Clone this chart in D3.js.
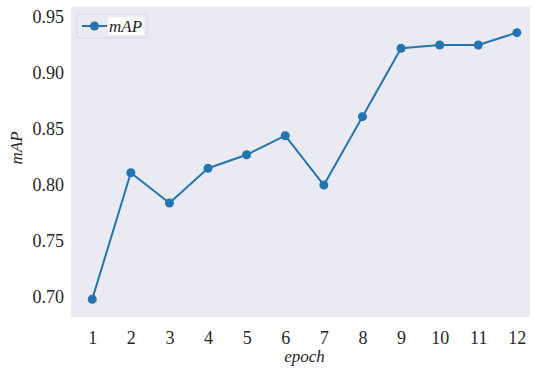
<!DOCTYPE html>
<html>
<head>
<meta charset="utf-8">
<script src="https://cdn.jsdelivr.net/npm/d3@7"></script>
<style>
  html, body { margin: 0; padding: 0; background: #ffffff; }
  svg { display: block; }
  text { font-family: "Liberation Serif", "DejaVu Serif", serif; fill: #262626; }
</style>
</head>
<body>
<svg id="chart" width="533" height="368"></svg>
<script>
// Training curve: mAP per epoch
const epochs = [1, 2, 3, 4, 5, 6, 7, 8, 9, 10, 11, 12];
const mapValues = [0.698, 0.811, 0.784, 0.815, 0.827, 0.844, 0.800, 0.861, 0.922, 0.925, 0.925, 0.936];
const yTicks = [0.70, 0.75, 0.80, 0.85, 0.90, 0.95];
const seriesName = "mAP";
const xLabel = "epoch";
const yLabel = "mAP";

const svg = d3.select("#chart");
const plot = { left: 71, top: 7, right: 530, bottom: 317 };

const x = d3.scaleLinear().domain([0.45, 12.34]).range([plot.left, plot.right]);
const y = d3.scaleLinear().domain([0.6822, 0.9589]).range([plot.bottom, plot.top]);

const color = "#2474b2";

// axes background
svg.append("rect")
  .attr("x", plot.left).attr("y", plot.top)
  .attr("width", plot.right - plot.left).attr("height", plot.bottom - plot.top)
  .attr("fill", "#eaeaf2");

// x axis
const xAxis = svg.append("g")
  .attr("transform", `translate(0,${plot.bottom})`)
  .call(d3.axisBottom(x).tickValues(epochs).tickFormat(d3.format("d")).tickSize(0).tickPadding(14));
xAxis.select(".domain").remove();
xAxis.selectAll("text").attr("font-size", 18).style("font-family", "'Liberation Serif', serif").attr("fill", "#262626");

// y axis
const yAxis = svg.append("g")
  .attr("transform", `translate(${plot.left},0)`)
  .call(d3.axisLeft(y).tickValues(yTicks).tickFormat(d3.format(".2f")).tickSize(0).tickPadding(7));
yAxis.select(".domain").remove();
yAxis.selectAll("text").attr("font-size", 18).style("font-family", "'Liberation Serif', serif").attr("fill", "#262626");

// axis titles
svg.append("text")
  .attr("x", (plot.left + plot.right) / 2 + 4).attr("y", 362)
  .attr("text-anchor", "middle")
  .attr("font-size", 17).attr("font-style", "italic")
  .text(xLabel);

svg.append("text")
  .attr("transform", `translate(22,${(plot.top + plot.bottom) / 2 - 14}) rotate(-90)`)
  .attr("text-anchor", "middle")
  .attr("font-size", 17).attr("font-style", "italic")
  .text(yLabel);

// line + markers
const data = epochs.map((e, i) => ({ e, v: mapValues[i] }));
svg.append("path")
  .datum(data)
  .attr("fill", "none")
  .attr("stroke", color)
  .attr("stroke-width", 2)
  .attr("stroke-linejoin", "round")
  .attr("d", d3.line().x(d => x(d.e)).y(d => y(d.v)));

svg.append("g").selectAll("circle")
  .data(data)
  .join("circle")
  .attr("cx", d => x(d.e))
  .attr("cy", d => y(d.v))
  .attr("r", 4.5)
  .attr("fill", color);

// legend
const lg = svg.append("g").attr("transform", "translate(77,14)");
lg.append("rect")
  .attr("width", 70).attr("height", 24).attr("rx", 3)
  .attr("fill", "#eaeaf2").attr("stroke", "#d6d6de").attr("stroke-width", 1);
lg.append("line")
  .attr("x1", 5).attr("x2", 30).attr("y1", 12).attr("y2", 12)
  .attr("stroke", color).attr("stroke-width", 2);
lg.append("circle").attr("cx", 17.5).attr("cy", 12).attr("r", 4.5).attr("fill", color);
lg.append("rect").attr("x", 31).attr("y", 3).attr("width", 36).attr("height", 18).attr("fill", "#ffffff");
lg.append("text")
  .attr("x", 32).attr("y", 18)
  .attr("font-size", 17).attr("font-style", "italic")
  .text(seriesName);
</script>
</body>
</html>
